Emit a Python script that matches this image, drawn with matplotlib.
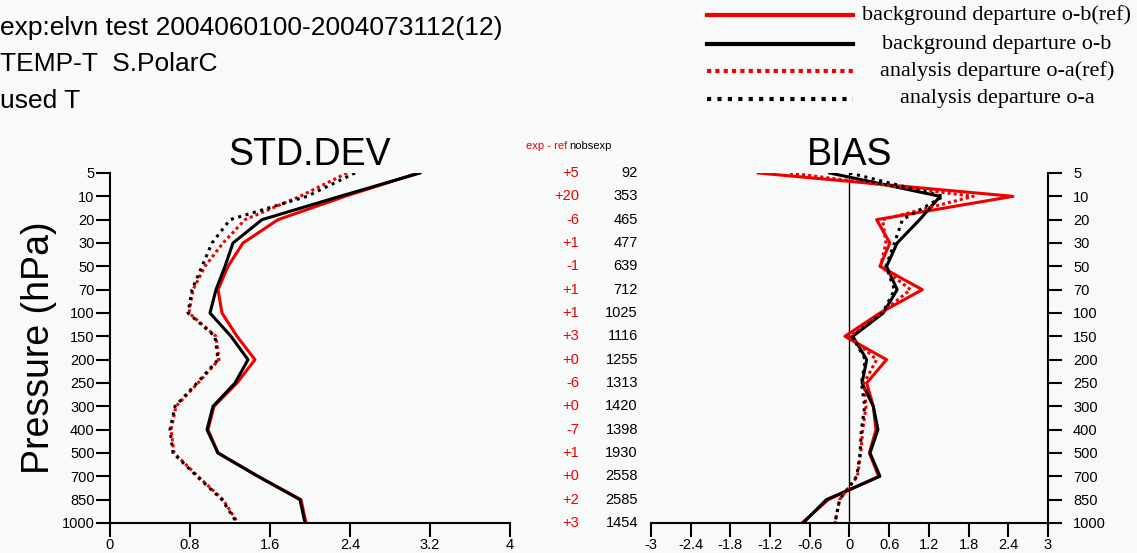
import numpy as np
import matplotlib
matplotlib.use("Agg")
import matplotlib.pyplot as plt
from matplotlib.transforms import blended_transform_factory

plt.rcParams['font.family'] = ['Liberation Sans', 'DejaVu Sans']

# pressure levels (hPa), top to bottom
levels = [5, 10, 20, 30, 50, 70, 100, 150, 200, 250, 300, 400, 500, 700, 850, 1000]

# STD.DEV
std_ob_ref = [3.08, 2.35, 1.68, 1.33, 1.18, 1.08, 1.12, 1.27, 1.45, 1.27, 1.04, 0.98, 1.08, 1.48, 1.91, 1.96]
std_ob_exp = [3.10, 2.30, 1.52, 1.23, 1.15, 1.06, 1.00, 1.21, 1.38, 1.25, 1.03, 0.97, 1.08, 1.48, 1.90, 1.95]
std_oa_ref = [2.37, 1.90, 1.35, 1.13, 0.95, 0.83, 0.79, 1.06, 1.09, 0.88, 0.66, 0.61, 0.64, 0.88, 1.13, 1.28]
std_oa_exp = [2.45, 1.97, 1.20, 1.02, 0.92, 0.82, 0.78, 1.05, 1.08, 0.87, 0.65, 0.60, 0.63, 0.87, 1.12, 1.27]

# BIAS
bias_ob_ref = [-1.38, 2.47, 0.41, 0.61, 0.46, 1.10, 0.46, -0.07, 0.56, 0.26, 0.36, 0.40, 0.30, 0.44, -0.32, -0.72]
bias_ob_exp = [-0.30, 1.37, 1.06, 0.72, 0.56, 0.72, 0.51, 0.05, 0.26, 0.19, 0.36, 0.43, 0.31, 0.46, -0.35, -0.70]
bias_oa_ref = [-0.90, 1.87, 0.50, 0.55, 0.47, 0.92, 0.48, 0.00, 0.41, 0.22, 0.25, 0.20, 0.17, 0.12, -0.15, -0.22]
bias_oa_exp = [0.00, 1.42, 0.80, 0.68, 0.55, 0.68, 0.50, 0.04, 0.24, 0.18, 0.23, 0.18, 0.16, 0.11, -0.15, -0.22]

# observation counts
diff_nobs = ['+5', '+20', '-6', '+1', '-1', '+1', '+1', '+3', '+0', '-6', '+0', '-7', '+1', '+0', '+2', '+3']
nobs_exp = [92, 353, 465, 477, 639, 712, 1025, 1116, 1255, 1313, 1420, 1398, 1930, 2558, 2585, 1454]

std_ticks = [0, 0.8, 1.6, 2.4, 3.2, 4]
std_ticklabels = ['0', '0.8', '1.6', '2.4', '3.2', '4']
bias_ticks = [-3, -2.4, -1.8, -1.2, -0.6, 0, 0.6, 1.2, 1.8, 2.4, 3]
bias_ticklabels = ['-3', '-2.4', '-1.8', '-1.2', '-0.6', '0', '0.6', '1.2', '1.8', '2.4', '3']

RED = '#ee0000'
W, H = 1137, 553
bg = '#f7faf8'

fig = plt.figure(figsize=(W / 100, H / 100), dpi=100, facecolor=bg)
yy = np.arange(len(levels))

def px(x0, y0, x1, y1):
    return [x0 / W, 1 - y1 / H, (x1 - x0) / W, (y1 - y0) / H]

ax1 = fig.add_axes(px(110, 173, 510, 523))
ax2 = fig.add_axes(px(651, 173, 1048, 523))

for ax in (ax1, ax2):
    ax.set_facecolor(bg)
    ax.set_ylim(len(levels) - 1, 0)
    ax.spines['top'].set_visible(False)
    ax.tick_params(axis='both', direction='out', length=10, width=1.5,
                   labelsize=10.5, colors='black', pad=1)
    for s in ax.spines.values():
        s.set_linewidth(1.5)

# STD.DEV panel
ax1.plot(std_ob_ref, yy, color=RED, lw=2.2)
ax1.plot(std_ob_exp, yy, color='black', lw=2.2)
ax1.plot(std_oa_ref, yy, color=RED, lw=2.2, ls=(0, (1, 1)))
ax1.plot(std_oa_exp, yy, color='black', lw=2.2, ls=(0, (1, 1.5)))
ax1.set_xlim(0, 4)
ax1.spines['right'].set_visible(False)
ax1.set_xticks(std_ticks)
ax1.set_xticklabels(std_ticklabels)
ax1.set_yticks(yy)
ax1.set_yticklabels([str(p) for p in levels])
ax1.set_title('STD.DEV', fontsize=27, pad=2)
ax1.set_ylabel('Pressure (hPa)', fontsize=27)
ax1.yaxis.set_label_coords(-0.1325, 0.5)

# BIAS panel
ax2.axvline(0, color='black', lw=1)
ax2.plot(bias_ob_ref, yy, color=RED, lw=2.2)
ax2.plot(bias_ob_exp, yy, color='black', lw=2.2)
ax2.plot(bias_oa_ref, yy, color=RED, lw=2.2, ls=(0, (1, 1)))
ax2.plot(bias_oa_exp, yy, color='black', lw=2.2, ls=(0, (1, 1.5)))
ax2.set_xlim(-3, 3)
ax2.spines['left'].set_visible(False)
ax2.yaxis.tick_right()
ax2.tick_params(axis='y', pad=8)
ax2.set_xticks(bias_ticks)
ax2.set_xticklabels(bias_ticklabels)
ax2.set_yticks(yy)
ax2.set_yticklabels([str(p) for p in levels])
ax2.set_title('BIAS', fontsize=27, pad=2)

# middle columns
tr = blended_transform_factory(fig.transFigure, ax1.transData)
for i in range(len(levels)):
    ax1.text(579 / W, yy[i], diff_nobs[i], transform=tr, ha='right', va='center',
             fontsize=10.5, color=RED, clip_on=False)
    ax1.text(638 / W, yy[i], str(nobs_exp[i]), transform=tr, ha='right', va='center',
             fontsize=10.5, color='black', clip_on=False)
fig.text(567 / W, 1 - 146 / H, 'exp - ref', ha='right', va='center', fontsize=8, color=RED)
fig.text(569 / W, 1 - 146 / H, 'nobsexp', ha='left', va='center', fontsize=8, color='black')

# header text
fig.text(0, 1 - 28 / H, 'exp:elvn test 2004060100-2004073112(12)', fontsize=19, va='center')
fig.text(0, 1 - 64 / H, 'TEMP-T  S.PolarC', fontsize=19, va='center')
fig.text(0, 1 - 101 / H, 'used T', fontsize=19, va='center')

# legend drawn by hand
leg_labels = ['background departure o-b(ref)', 'background departure o-b',
              'analysis departure o-a(ref)', 'analysis departure o-a']
leg_colors = [RED, 'black', RED, 'black']
leg_styles = ['-', '-', (0, (1, 1)), (0, (1, 1.5))]
leg_y = [15, 44, 71, 99]
for lab, c, st, y in zip(leg_labels, leg_colors, leg_styles, leg_y):
    fig.add_artist(plt.Line2D([707 / W, 853 / W], [1 - y / H, 1 - y / H], color=c,
                              lw=3, ls=st, transform=fig.transFigure))
    fig.text(997 / W, 1 - y / H, lab, ha='center', va='center', fontsize=16,
             family=['Liberation Serif', 'DejaVu Serif'])

fig.savefig('out.png', dpi=100, facecolor=bg)
